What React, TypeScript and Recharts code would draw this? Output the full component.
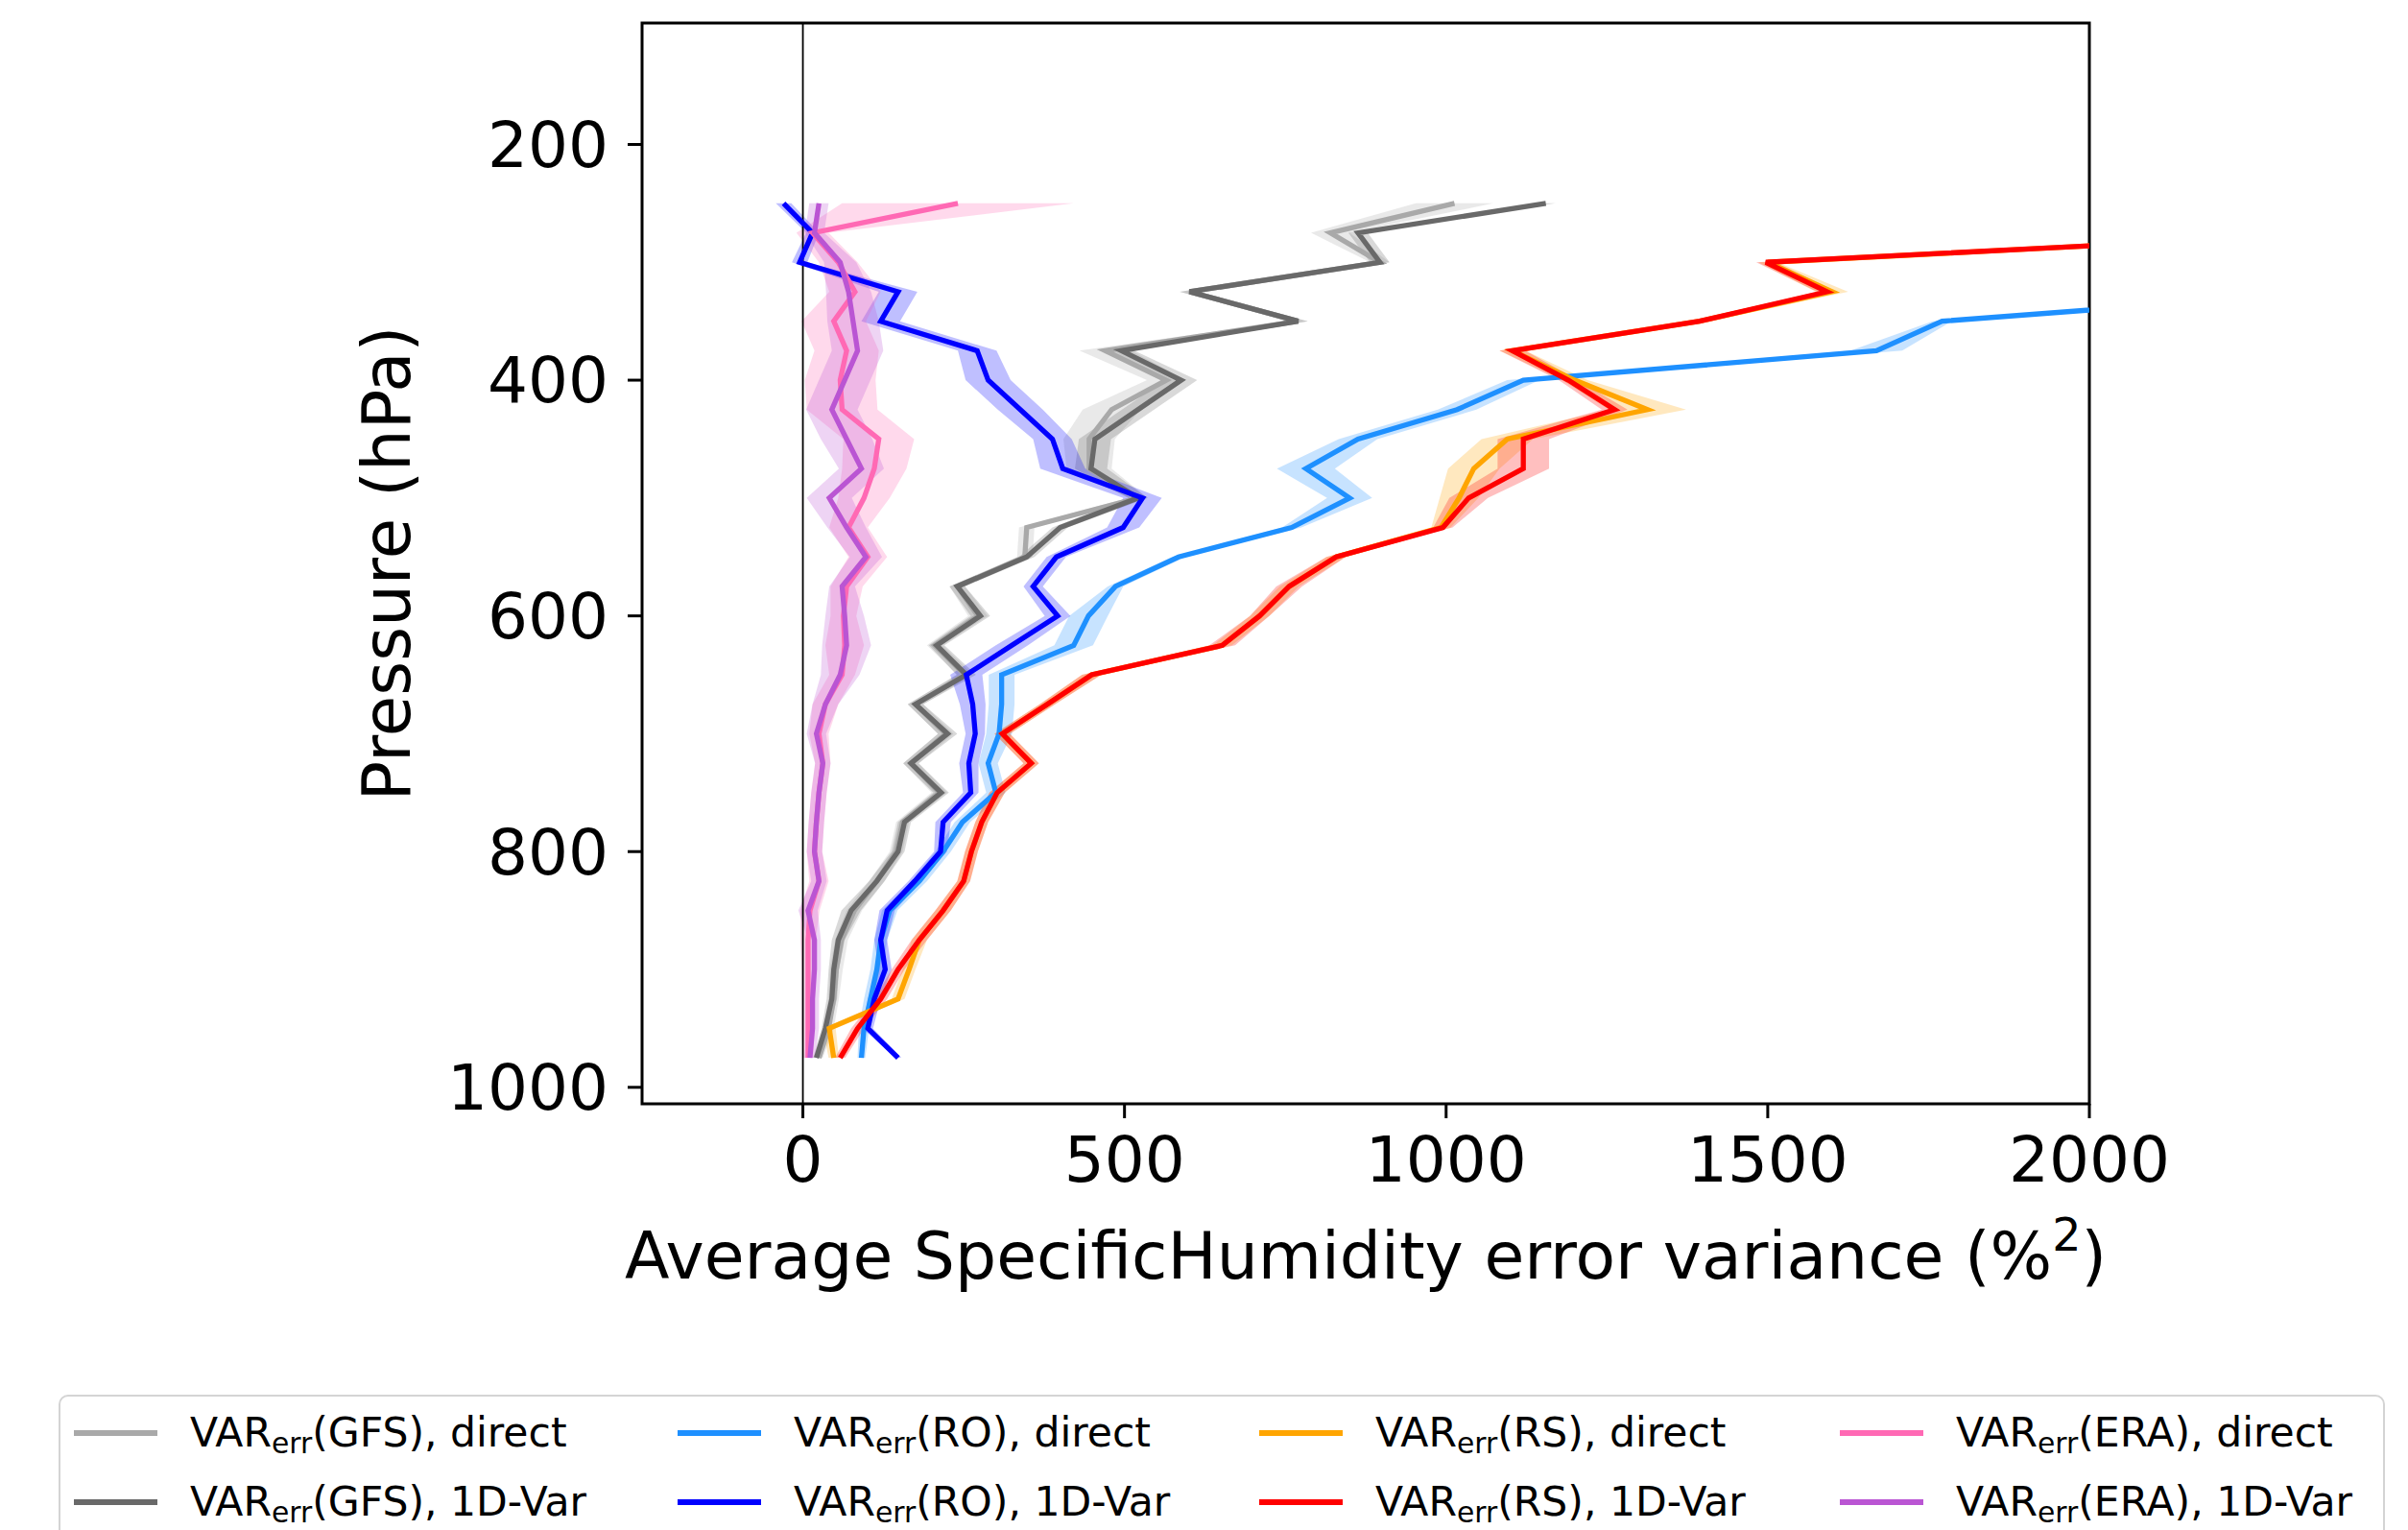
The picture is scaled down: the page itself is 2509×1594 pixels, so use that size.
import React from 'react';
import { ComposedChart, Line, Area, XAxis, YAxis, ReferenceLine, ReferenceArea } from 'recharts';

const pressure = [250, 275, 300, 325, 350, 375, 400, 425, 450, 475, 500, 525, 550, 575, 600, 625, 650, 675, 700, 725, 750, 775, 800, 825, 850, 875, 900, 925, 950, 975];

const xTicks = [0, 500, 1000, 1500, 2000];
const yTicks = [200, 400, 600, 800, 1000];

const gfsDirect = [1013, 820, 897, 601, 770, 470, 565, 480, 445, 445, 521, 348, 345, 240, 272, 205, 252, 175, 222, 168, 212, 155, 145, 115, 80, 60, 52, 48, 40, 25];
const gfsDirectSpread = [60, 30, 15, 15, 15, 40, 30, 45, 40, 35, 15, 12, 12, 12, 15, 12, 12, 12, 12, 12, 12, 10, 10, 12, 12, 10, 10, 8, 8, 6];

const gfsVar = [1155, 863, 897, 601, 770, 495, 588, 521, 454, 448, 521, 400, 348, 240, 276, 208, 254, 175, 225, 168, 215, 158, 148, 115, 75, 55, 48, 45, 35, 21];
const gfsVarSpread = [15, 15, 15, 15, 15, 20, 25, 25, 25, 25, 15, 12, 12, 12, 15, 12, 15, 12, 15, 12, 12, 10, 10, 12, 15, 10, 8, 8, 6, 5];

const roDirect = [null, null, null, 2374, 1771, 1669, 1120, 1017, 863, 782, 850, 760, 584, 486, 444, 421, 309, 309, 305, 288, 300, 248, 218, 181, 135, 121, 115, 105, 95, 91];
const roDirectSpread = [0, 0, 0, 10, 15, 40, 25, 30, 30, 45, 35, 15, 10, 12, 30, 30, 20, 20, 20, 15, 15, 12, 12, 12, 12, 10, 10, 10, 8, 6];

const roVar = [-30, 15, -5, 148, 121, 271, 288, 338, 388, 404, 528, 498, 394, 358, 396, 325, 254, 264, 268, 258, 261, 218, 214, 174, 131, 121, 128, 111, 101, 148];
const roVarSpread = [12, 10, 12, 30, 30, 30, 35, 35, 30, 35, 30, 25, 15, 15, 20, 25, 25, 20, 15, 15, 12, 12, 10, 10, 12, 10, 10, 10, 8, 5];

const rsDirect = [null, 2400, 1500, 1600, 1394, 1103, 1200, 1313, 1095, 1043, 1020, 992, 829, 756, 710, 652, 449, 380, 310, 355, 302, 278, 262, 250, 218, 181, 165, 148, 41, 48];
const rsDirectSpread = [0, 20, 15, 25, 15, 20, 20, 60, 40, 40, 30, 15, 15, 15, 15, 15, 15, 12, 12, 12, 12, 10, 10, 10, 12, 12, 10, 10, 10, 8];

const rsVar = [null, 2400, 1497, 1592, 1394, 1103, 1190, 1262, 1120, 1120, 1035, 995, 829, 756, 710, 652, 449, 380, 310, 355, 302, 278, 262, 250, 218, 181, 148, 121, 85, 58];
const rsVarSpread = [0, 20, 15, 15, 15, 20, 15, 20, 40, 40, 30, 15, 15, 20, 15, 20, 15, 12, 12, 12, 12, 10, 10, 10, 12, 12, 10, 10, 10, 8];

const eraDirect = [241, 15, 55, 81, 48, 68, 58, 61, 118, 111, 95, 71, 101, 68, 63, 65, 61, 35, 25, 31, 25, 21, 18, 25, 11, 8, 8, 8, 8, 8];
const eraDirectSpread = [180, 25, 30, 40, 50, 50, 55, 55, 55, 50, 40, 30, 30, 25, 20, 30, 20, 20, 15, 12, 12, 12, 12, 15, 15, 12, 10, 10, 10, 8];

const eraVar = [25, 18, 58, 71, 78, 85, 65, 45, 68, 91, 41, 68, 98, 61, 65, 68, 58, 35, 21, 31, 25, 21, 18, 25, 8, 18, 18, 15, 15, 11];
const eraVarSpread = [15, 15, 25, 35, 40, 40, 40, 40, 40, 35, 35, 30, 25, 20, 30, 38, 30, 20, 15, 12, 12, 12, 12, 12, 15, 10, 10, 10, 10, 8];

const series = [
  { key: 'gfsD', source: 'GFS', method: 'direct', color: '#a9a9a9', values: gfsDirect, spread: gfsDirectSpread },
  { key: 'gfsV', source: 'GFS', method: '1D-Var', color: '#696969', values: gfsVar, spread: gfsVarSpread },
  { key: 'roD', source: 'RO', method: 'direct', color: '#1e90ff', values: roDirect, spread: roDirectSpread },
  { key: 'roV', source: 'RO', method: '1D-Var', color: '#0000ff', values: roVar, spread: roVarSpread },
  { key: 'rsD', source: 'RS', method: 'direct', color: '#ffa500', values: rsDirect, spread: rsDirectSpread },
  { key: 'rsV', source: 'RS', method: '1D-Var', color: '#ff0000', values: rsVar, spread: rsVarSpread },
  { key: 'eraD', source: 'ERA', method: 'direct', color: '#ff69b4', values: eraDirect, spread: eraDirectSpread },
  { key: 'eraV', source: 'ERA', method: '1D-Var', color: '#ba55d3', values: eraVar, spread: eraVarSpread },
];

const data = pressure.map((p, i) => {
  const row: Record<string, any> = { p };
  series.forEach((s) => {
    const v = s.values[i];
    row[s.key] = v;
    row[s.key + 'Band'] = v == null ? null : [v - s.spread[i], v + s.spread[i]];
  });
  return row;
});

const W = 2509;
const H = 1594;
const FONT = '"DejaVu Sans", sans-serif';

const legendHandleX = [77, 706, 1312, 1917];
const legendRowY = [1493, 1565];

export default function App() {
  return (
    <div style={{ position: 'absolute', left: 0, top: 0, width: W, height: H, background: '#fff', overflow: 'hidden', fontFamily: FONT }}>
      <ComposedChart layout="vertical" width={W} height={H} data={data} margin={{ top: 24, right: 332, bottom: 244, left: 469 }}>
        <XAxis
          type="number"
          domain={[-250, 2000]}
          ticks={xTicks}
          allowDataOverflow
          axisLine={false}
          tickLine={{ stroke: '#000', strokeWidth: 3 }}
          tickSize={15}
          tickMargin={19}
          height={200}
          interval={0}
          tick={{ fill: '#000', fontSize: 66, fontFamily: FONT }}
        />
        <YAxis
          type="number"
          dataKey="p"
          domain={[97, 1014]}
          ticks={yTicks}
          allowDataOverflow
          axisLine={false}
          tickLine={{ stroke: '#000', strokeWidth: 3 }}
          tickSize={15}
          tickMargin={20}
          width={200}
          interval={0}
          tick={{ fill: '#000', fontSize: 66, fontFamily: FONT }}
        />
        <ReferenceLine x={0} stroke="#000" strokeWidth={1.8} />
        {series.map((s) => (
          <React.Fragment key={s.key}>
            <Area
              type="linear"
              dataKey={s.key + 'Band'}
              stroke="none"
              fill={s.color}
              fillOpacity={0.25}
              isAnimationActive={false}
              activeDot={false}
              dot={false}
            />
            <Line
              type="linear"
              dataKey={s.key}
              stroke={s.color}
              strokeWidth={5.3}
              dot={false}
              activeDot={false}
              isAnimationActive={false}
            />
          </React.Fragment>
        ))}
        <ReferenceArea x1={-250} x2={2000} y1={97} y2={1014} fill="none" fillOpacity={0} stroke="#000" strokeWidth={3} />
      </ComposedChart>

      <div style={{ position: 'absolute', left: 1423, top: 1275, transform: 'translateX(-50%)', fontSize: 68, lineHeight: 1, whiteSpace: 'nowrap', color: '#000' }}>
        Average SpecificHumidity error variance (%<span style={{ fontSize: '0.7em', position: 'relative', top: '-0.6em' }}>2</span>)
      </div>
      <div style={{ position: 'absolute', left: 403, top: 587, transform: 'translate(-50%, -50%) rotate(-90deg)', fontSize: 69, lineHeight: 1, whiteSpace: 'nowrap', color: '#000' }}>
        Pressure (hPa)
      </div>

      <div style={{ position: 'absolute', left: 61, top: 1453, width: 2420, height: 220, border: '2px solid #d4d4d4', borderRadius: 10, background: '#fff' }} />
      {series.map((s, i) => {
        const col = Math.floor(i / 2);
        const row = i % 2;
        const hx = legendHandleX[col];
        const y = legendRowY[row];
        return (
          <React.Fragment key={'lg' + s.key}>
            <div style={{ position: 'absolute', left: hx, top: y - 2.75, width: 87, height: 5.5, background: s.color }} />
            <div style={{ position: 'absolute', left: hx + 121, top: y, transform: 'translateY(-50%)', fontSize: 42.5, lineHeight: 1, whiteSpace: 'nowrap', color: '#000' }}>
              VAR<span style={{ fontSize: '0.7em', position: 'relative', top: '0.25em' }}>err</span>({s.source}), {s.method}
            </div>
          </React.Fragment>
        );
      })}
    </div>
  );
}
